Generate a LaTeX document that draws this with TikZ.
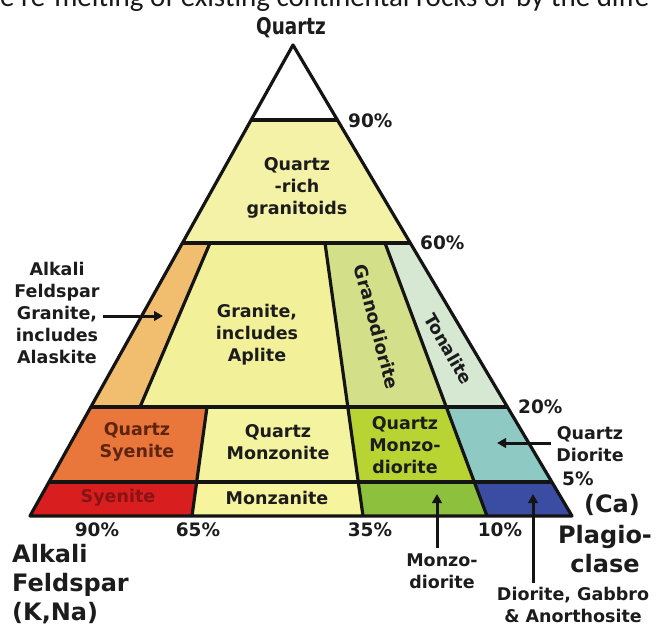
\documentclass[tikz,border=0pt]{standalone}
\usepackage{fontspec}
\usepackage{graphicx}
\setmainfont{DejaVu Sans}
\newfontfamily\topfont{Carlito}
\usetikzlibrary{arrows.meta}
\definecolor{qrg}{HTML}{F3F2A6}
\definecolor{afg}{HTML}{F0BE6E}
\definecolor{gran}{HTML}{F2F19A}
\definecolor{grdi}{HTML}{D4DF8A}
\definecolor{tona}{HTML}{D6E8D2}
\definecolor{qsye}{HTML}{E9763A}
\definecolor{qmon}{HTML}{F4F3A0}
\definecolor{qmdi}{HTML}{B8D433}
\definecolor{qdio}{HTML}{8ECAC3}
\definecolor{sye}{HTML}{D81E1E}
\definecolor{mon}{HTML}{F6F49C}
\definecolor{mdi}{HTML}{8DC03C}
\definecolor{dio}{HTML}{3B4CA3}
\definecolor{ink}{HTML}{1C1C1C}
\definecolor{syeink}{HTML}{8A1414}
\definecolor{qsyeink}{HTML}{5E2410}
\begin{document}
\begin{tikzpicture}[x=1pt,y=-1pt,line join=round,
  bline/.style={line width=3.2pt,draw=black!92},
  inlbl/.style={font=\fontsize{17.5}{22}\selectfont\bfseries,align=center,text=ink,inner sep=0pt},
  outlbl/.style={font=\fontsize{17.5}{22}\selectfont\bfseries,align=center,text=ink,inner sep=0pt},
  biglbl/.style={font=\fontsize{24}{29}\selectfont\bfseries,text=ink,inner sep=0pt},
  pct/.style={font=\fontsize{18.5}{20}\selectfont\bfseries,text=ink,inner sep=0pt},
  ptr/.style={line width=3pt,draw=black!92,-{Triangle[length=9pt,width=9.5pt]}}]
\useasboundingbox (0,0) rectangle (657,626);
\fill[white] (0,0) rectangle (657,626);
% cut-off caption line at the top
\node[anchor=base west,inner sep=0pt,font=\topfont\fontsize{29}{30}\selectfont,text=black!90] (cap) at (0,7) {e re-melting of existing continental rocks or by the diffe};
% corners and division points
\coordinate (A) at (293,45);
\coordinate (L) at (30,516);
\coordinate (R) at (572,516);
\coordinate (l90) at (251,120);  \coordinate (r90) at (337,120);
\coordinate (l60) at (182,243);  \coordinate (r60) at (410,243);
\coordinate (l20) at (91,407);   \coordinate (r20) at (507,407);
\coordinate (l5) at (49,482);    \coordinate (r5) at (552,482);
\coordinate (a60) at (210,243);  \coordinate (a20) at (140,407);
\coordinate (b60) at (325,243);  \coordinate (b20) at (347.8,407); \coordinate (b5) at (358,482); \coordinate (b0) at (363,516);
\coordinate (c60) at (385,243);  \coordinate (c20) at (446,407);   \coordinate (c5) at (474,482);  \coordinate (c0) at (487,516);
\coordinate (d20) at (207,407);  \coordinate (d5) at (196.7,482);  \coordinate (d0) at (192,516);
% fields
\fill[white] (A) -- (l90) -- (r90) -- cycle;
\fill[qrg] (l90) -- (r90) -- (r60) -- (l60) -- cycle;
\fill[afg] (l60) -- (a60) -- (a20) -- (l20) -- cycle;
\fill[gran] (a60) -- (b60) -- (b20) -- (a20) -- cycle;
\fill[grdi] (b60) -- (c60) -- (c20) -- (b20) -- cycle;
\fill[tona] (c60) -- (r60) -- (r20) -- (c20) -- cycle;
\fill[qsye] (l20) -- (d20) -- (d5) -- (l5) -- cycle;
\fill[qmon] (d20) -- (b20) -- (b5) -- (d5) -- cycle;
\fill[qmdi] (b20) -- (c20) -- (c5) -- (b5) -- cycle;
\fill[qdio] (c20) -- (r20) -- (r5) -- (c5) -- cycle;
\fill[sye] (l5) -- (d5) -- (d0) -- (L) -- cycle;
\fill[mon] (d5) -- (b5) -- (b0) -- (d0) -- cycle;
\fill[mdi] (b5) -- (c5) -- (c0) -- (b0) -- cycle;
\fill[dio] (c5) -- (r5) -- (R) -- (c0) -- cycle;
% boundaries
\draw[bline] (l90) -- (r90);
\draw[bline] (l60) -- (r60);
\draw[bline] (l20) -- (r20);
\draw[bline] (l5) -- (r5);
\draw[bline] (a60) -- (a20);
\draw[bline] (b60) -- (b0);
\draw[bline] (c60) -- (c0);
\draw[bline] (d20) -- (d0);
\draw[bline] (A) -- (L) -- (R) -- cycle;
% title
\node[font=\fontsize{23}{24}\selectfont\bfseries,text=ink,inner sep=0pt] (qz) at (291,28) {\scalebox{0.8}[1]{Quartz}};
% field labels
\node[inlbl] (tqrg) at (297,188) {Quartz\\-rich\\granitoids};
\node[inlbl] (tgran) at (257,335) {Granite,\\includes\\Aplite};
\node[inlbl,font=\fontsize{18}{22}\selectfont\bfseries,rotate=-75] (tgrdi) at (377,327) {Granodiorite};
\node[inlbl,rotate=-60] (ttona) at (449,349) {Tonalite};
\node[inlbl,text=qsyeink] (tqsye) at (137,442) {Quartz\\Syenite};
\node[inlbl] (tqmon) at (278,442) {Quartz\\Monzonite};
\node[inlbl] (tqmdi) at (405,445) {Quartz\\Monzo-\\diorite};
\node[inlbl,text=syeink] (tsye) at (118,498) {Syenite};
\node[inlbl] (tmon) at (277,498) {Monzanite};
% outside labels with pointers
\node[outlbl] (tafg) at (57,313) {Alkali\\Feldspar\\Granite,\\includes\\Alaskite};
\coordinate (afgS) at (103,316);
\coordinate (afgE) at (163,316);
\draw[ptr] (afgS) -- (afgE);
\node[outlbl] (tqdio) at (590,444) {Quartz\\Diorite};
\coordinate (qdS) at (551,443);
\coordinate (qdE) at (497,443);
\draw[ptr] (qdS) -- (qdE);
\node[outlbl] (tmdi) at (442,571) {Monzo-\\diorite};
\coordinate (mdS) at (437,548);
\coordinate (mdE) at (437,494);
\draw[ptr] (mdS) -- (mdE);
\node[outlbl] (tdio) at (573,605) {Diorite, Gabbro\\\& Anorthosite};
\coordinate (dS) at (533,583);
\coordinate (dE) at (533,494);
\draw[ptr] (dS) -- (dE);
% corner labels
\node[biglbl,align=left,anchor=west] (talk) at (12,584) {Alkali\\Feldspar\\(K,Na)};
\node[biglbl] (tca) at (612,505) {(Ca)};
\node[biglbl,align=center] (tplag) at (605,549) {Plagio-\\clase};
% percentages
\node[pct,anchor=west] (p90r) at (348,121) {90\%};
\node[pct,anchor=west] (p60r) at (420,243) {60\%};
\node[pct,anchor=west] (p20r) at (518,407) {20\%};
\node[pct,anchor=west] (p5r) at (562,479) {5\%};
\node[pct] (p90b) at (97,530) {90\%};
\node[pct] (p65b) at (198,530) {65\%};
\node[pct] (p35b) at (370,530) {35\%};
\node[pct] (p10b) at (500,530) {10\%};
\end{tikzpicture}
\end{document}
